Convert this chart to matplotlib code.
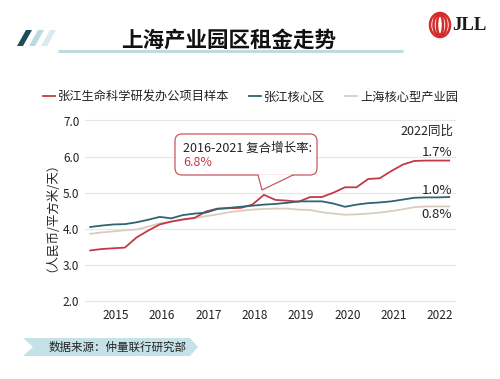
import matplotlib
matplotlib.use("Agg")
import matplotlib.pyplot as plt
from matplotlib.patches import FancyBboxPatch, Polygon, Ellipse
import numpy as np

plt.rcParams['font.family'] = ['Noto Sans CJK SC', 'DejaVu Sans']

# quarterly rents 2015Q1 - 2022Q4 (RMB / sqm / day)
zj_lab = [3.40, 3.44, 3.46, 3.48, 3.76, 3.95, 4.12, 4.20,
          4.26, 4.30, 4.48, 4.56, 4.57, 4.58, 4.67, 4.94,
          4.80, 4.78, 4.75, 4.88, 4.88, 5.00, 5.15, 5.15,
          5.38, 5.40, 5.60, 5.78, 5.88, 5.89, 5.89, 5.89]
zj_core = [4.05, 4.09, 4.12, 4.13, 4.18, 4.25, 4.33, 4.29,
           4.38, 4.42, 4.45, 4.55, 4.58, 4.61, 4.64, 4.67,
           4.69, 4.72, 4.76, 4.76, 4.76, 4.70, 4.61, 4.67,
           4.71, 4.73, 4.76, 4.81, 4.86, 4.87, 4.87, 4.88]
sh_core = [3.86, 3.90, 3.93, 3.96, 3.98, 4.06, 4.15, 4.20,
           4.25, 4.30, 4.35, 4.40, 4.46, 4.50, 4.53, 4.55,
           4.56, 4.56, 4.53, 4.52, 4.46, 4.42, 4.39, 4.40,
           4.42, 4.45, 4.49, 4.54, 4.60, 4.62, 4.62, 4.62]
series_names = ['张江生命科学研发办公项目样本', '张江核心区', '上海核心型产业园']
series_colors = ['#c23a44', '#2f6470', '#d8cdbf']
year_labels = ['2015', '2016', '2017', '2018', '2019', '2020', '2021', '2022']
yoy_labels = ['1.7%', '1.0%', '0.8%']

W, H = 500, 379
fig = plt.figure(figsize=(W / 100, H / 100), dpi=100)

# main chart
ax = fig.add_axes([85 / W, 1 - 301 / H, 370 / W, 180.5 / H])
x = np.arange(len(zj_lab))
for vals, name, col in zip([zj_lab, zj_core, sh_core], series_names, series_colors):
    ax.plot(x, vals, color=col, lw=1.3, label=name, zorder=3 if col != series_colors[2] else 2)
ax.set_xlim(-0.45, 31.5)
ax.set_ylim(2.0, 7.0)
ax.set_yticks(np.arange(2.0, 7.01, 1.0))
ax.set_yticklabels([f'{v:.1f}' for v in np.arange(2.0, 7.01, 1.0)])
ax.set_xticks([2.2 + 4 * k for k in range(len(year_labels))])
ax.set_xticklabels(year_labels)
ax.tick_params(length=0, labelsize=8.5, colors='#222222')
ax.tick_params(axis='x', pad=6)
ax.tick_params(axis='y', pad=4)
ax.grid(axis='y', color='#e6e6e6', lw=0.8, clip_on=False)
ax.set_axisbelow(True)
for s in ax.spines.values():
    s.set_visible(False)
ax.set_ylabel('（人民币/平方米/天）', fontsize=9, color='#222222', labelpad=8)

fig.legend(loc='center', bbox_to_anchor=(250.5 / W, 1 - 97 / H), ncol=3,
           frameon=False, fontsize=8.8, handlelength=1.0, handletextpad=0.25,
           columnspacing=1.6, labelcolor='#222222')

# overlay for decorations, pixel coordinates
ov = fig.add_axes([0, 0, 1, 1], zorder=5)
ov.set_xlim(0, W)
ov.set_ylim(H, 0)
ov.axis('off')
ov.patch.set_alpha(0)

# title
ov.text(229, 40, '上海产业园区租金走势', fontsize=15.5, fontweight='bold',
        ha='center', va='center', color='#111111')
ov.plot([58, 403], [50.5, 50.5], color='#bcdbe2', lw=2.2, solid_capstyle='butt')
for i, c in enumerate(['#1f4c5c', '#b9dbe3', '#d7ebf0']):
    x0 = 17 + i * 12
    ov.add_patch(Polygon([[x0, 46], [x0 + 6, 46], [x0 + 15, 30], [x0 + 9, 30]],
                         closed=True, color=c, lw=0))

# JLL logo
for w, h in [(20, 24), (13, 22), (6, 20)]:
    ov.add_patch(Ellipse((440, 25), w, h, fill=False, ec='#d52b2b', lw=1.8))
ov.text(452, 26, 'JLL', fontsize=13.5, fontweight='bold', family='Liberation Serif',
        ha='left', va='center', color='#1a1a1a')

# callout box
red_edge = '#c9565e'
ov.add_patch(FancyBboxPatch((175, 134), 142, 41, boxstyle='round,pad=0,rounding_size=7',
                            fc='white', ec=red_edge, lw=0.9))
ov.add_patch(Polygon([[257.5, 174.2], [262, 190], [293.5, 174.2]], closed=True,
                     fc='white', ec='none', lw=0))
ov.plot([258, 262, 293], [175, 190, 175], color=red_edge, lw=0.9)
ov.text(183, 148, '2016-2021 复合增长率:', fontsize=9, ha='left', va='center', color='#222222')
ov.text(183, 162, '6.8%', fontsize=9, ha='left', va='center', color='#c23a44')

# yoy labels
ov.text(453, 131, '2022同比', fontsize=9, ha='right', va='center', color='#222222')
for lab, yy in zip(yoy_labels, [153, 190, 215]):
    ov.text(452, yy, lab, fontsize=9.5, ha='right', va='center', color='#222222')

# source banner
ov.add_patch(Polygon([[23, 338], [190, 338], [198, 347], [190, 356], [23, 356], [33, 347]],
                     closed=True, color='#c6e2e9', lw=0))
ov.text(49, 347, '数据来源：仲量联行研究部', fontsize=8.3, ha='left', va='center', color='#222222')

fig.savefig('out.png', dpi=100)
